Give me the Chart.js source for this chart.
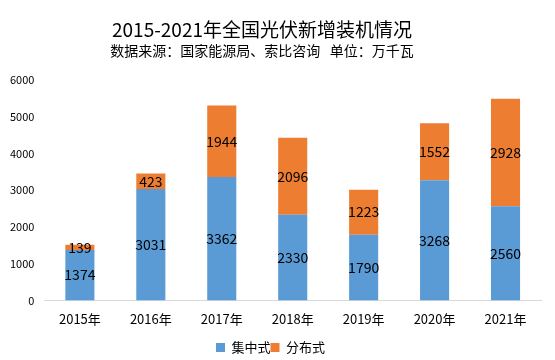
<!DOCTYPE html>
<html><head><meta charset="utf-8">
<script src="https://cdn.jsdelivr.net/npm/chart.js@4/dist/chart.umd.min.js"></script>
<style>html,body{margin:0;padding:0;background:#fff}#wrap{width:555px;height:360px;position:relative}</style>
</head><body><div id="wrap"><canvas id="c" width="555" height="360"></canvas></div>
<script>
const categories = ['2015年','2016年','2017年','2018年','2019年','2020年','2021年'];
const centralized = [1374,3031,3362,2330,1790,3268,2560];
const distributed = [139,423,1944,2096,1223,1552,2928];
const yTicks = [0,1000,2000,3000,4000,5000,6000];
const titleText = '2015-2021年全国光伏新增装机情况';
const subtitleText = '数据来源：国家能源局、索比咨询   单位：万千瓦';
const FONT = '"Microsoft YaHei","Noto Sans CJK SC","Noto Sans",sans-serif';

const labelPlugin = {
  id:'segLabels',
  afterDatasetsDraw(chart){
    const ctx = chart.ctx;
    ctx.save();
    ctx.font = '14px ' + FONT;
    ctx.fillStyle = '#000';
    ctx.textAlign = 'center';
    ctx.textBaseline = 'middle';
    chart.data.datasets.forEach((ds,i)=>{
      const meta = chart.getDatasetMeta(i);
      meta.data.forEach((bar,j)=>{
        const y = (bar.y + bar.base)/2;
        ctx.fillText(String(ds.data[j]), bar.x, y);
      });
    });
    ctx.restore();
  }
};

const headPlugin = {
  id:'heading',
  afterDraw(chart){
    const ctx = chart.ctx;
    ctx.save();
    ctx.fillStyle = '#000';
    ctx.textAlign = 'center';
    ctx.textBaseline = 'middle';
    ctx.font = '19px ' + FONT;
    ctx.fillText(titleText, 262, 30);
    ctx.font = '14px ' + FONT;
    ctx.fillText(subtitleText, 262, 51);
    ctx.restore();
  }
};

new Chart(document.getElementById('c'), {
  type:'bar',
  data:{
    labels:categories,
    datasets:[
      {label:'集中式', data:centralized, backgroundColor:'#5B9BD5', barPercentage:0.82, categoryPercentage:0.5},
      {label:'分布式', data:distributed, backgroundColor:'#ED7D31', barPercentage:0.82, categoryPercentage:0.5}
    ]
  },
  options:{
    responsive:false, animation:false,
    layout:{padding:{left:0,right:14,top:80,bottom:-4}},
    plugins:{
      title:{display:false},
      legend:{position:'bottom', labels:{boxWidth:9, boxHeight:9, color:'#000', font:{family:FONT,size:13}, padding:0}},
      tooltip:{enabled:false}
    },
    scales:{
      x:{stacked:true, afterFit(s){s.height += 3;}, grid:{display:false, drawTicks:false}, border:{color:'#d9d9d9'}, ticks:{color:'#000', font:{family:FONT,size:13}, padding:11}},
      y:{stacked:true, min:0, max:6000, afterBuildTicks(s){s.ticks=yTicks.map(v=>({value:v}));}, grid:{display:false, drawTicks:false}, border:{display:false}, ticks:{color:'#000', font:{family:FONT,size:11}, padding:10, callback:v=>String(v)}}
    }
  },
  plugins:[labelPlugin, headPlugin]
});
</script></body></html>
